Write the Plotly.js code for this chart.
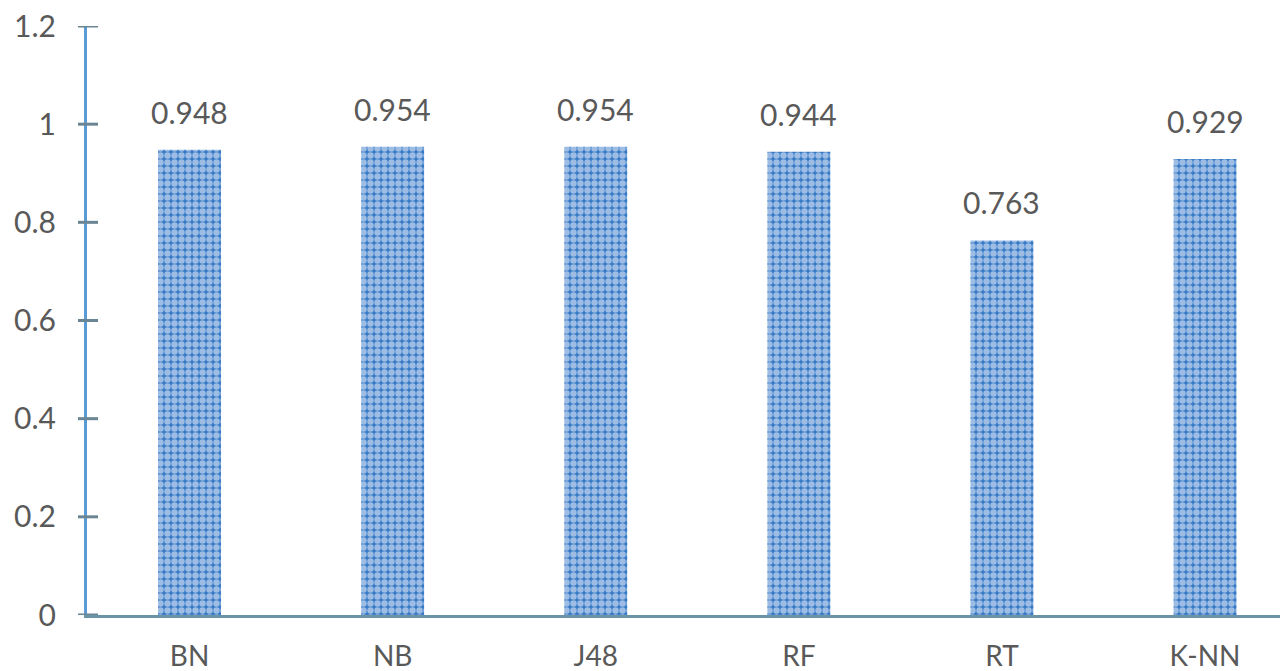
<!DOCTYPE html>
<html>
<head>
<meta charset="utf-8">
<script src="https://cdn.plot.ly/plotly-3.0.1.min.js"></script>
<style>html,body{margin:0;padding:0;background:#fff;}#chart{width:1285px;height:671px;}</style>
</head>
<body>
<div id="chart"></div>
<script>
const categories = ["BN", "NB", "J48", "RF", "RT", "K-NN"];
const values = [0.948, 0.954, 0.954, 0.944, 0.763, 0.929];
const valueLabels = ["0.948", "0.954", "0.954", "0.944", "0.763", "0.929"];
const yTicks = [0, 0.2, 0.4, 0.6, 0.8, 1, 1.2];
const yTickLabels = ["0", "0.2", "0.4", "0.6", "0.8", "1", "1.2"];

const fontFam = "Lato, 'Open Sans', sans-serif";
const textColor = "#595959";

const trace = {
  type: "bar",
  x: categories,
  y: values,
  width: 0.31,
  marker: {
    color: "#3a7bc8",
    line: {width: 0},
    pattern: {shape: ".", fgcolor: "#ffffff", bgcolor: "#3a7bc8", size: 7, solidity: 0.65, fillmode: "overlay"}
  },
  hoverinfo: "skip"
};

const annotations = categories.map((c, i) => ({
  x: c, y: values[i], xref: "x", yref: "y",
  text: valueLabels[i], showarrow: false,
  yanchor: "bottom", yshift: 18,
  font: {family: fontFam, size: 30, color: textColor}
}));

const shapes = yTicks.map(v => ({
  type: "line", xref: "paper", xsizemode: "pixel", xanchor: 0,
  x0: -9, x1: 11, yref: "y", y0: v, y1: v,
  line: {color: "#6a8593", width: 3}
}));

const layout = {
  width: 1285, height: 671,
  margin: {l: 87, r: 5, t: 26, b: 56},
  paper_bgcolor: "#fff", plot_bgcolor: "#fff",
  showlegend: false,
  xaxis: {
    type: "category",
    range: [-0.505, 5.369],
    showline: true, linecolor: "#6b93a6", linewidth: 3,
    showgrid: false, zeroline: false, ticks: "",
    tickfont: {family: fontFam, size: 28, color: textColor},
    ticklabelstandoff: 14
  },
  yaxis: {
    range: [0, 1.2],
    tickvals: yTicks, ticktext: yTickLabels,
    showline: true, linecolor: "#5b9bd5", linewidth: 3,
    showgrid: false, zeroline: false, ticks: "",
    tickfont: {family: fontFam, size: 30, color: textColor},
    ticklabelstandoff: 22
  },
  shapes: shapes,
  annotations: annotations
};

Plotly.newPlot("chart", [trace], layout, {displayModeBar: false, staticPlot: true});
</script>
</body>
</html>
